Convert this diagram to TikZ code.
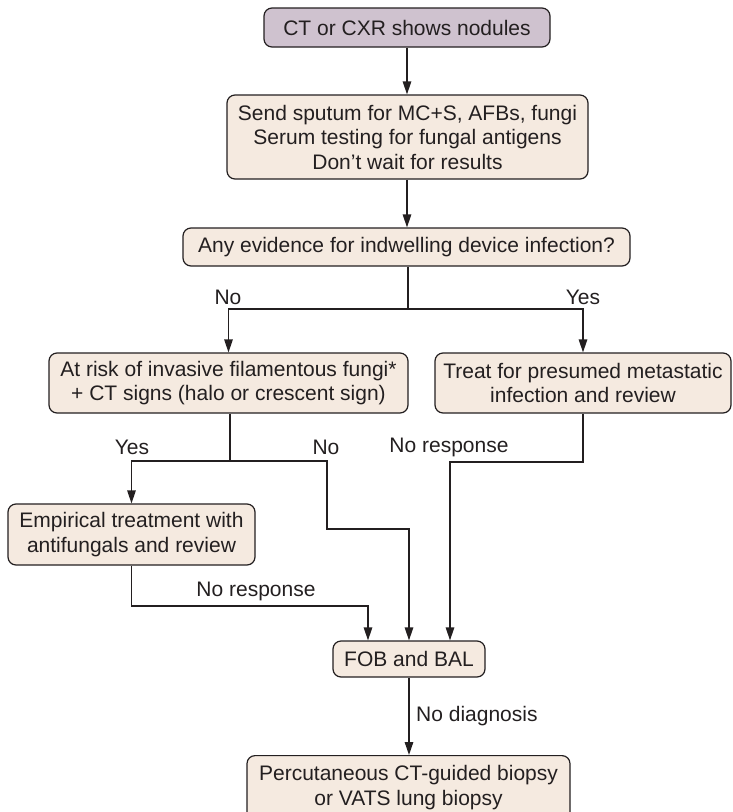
\documentclass[tikz,border=0pt]{standalone}
\usepackage{fontspec}
\setmainfont{Liberation Sans}
\usetikzlibrary{arrows.meta}
\definecolor{boxfill}{HTML}{F5EAE0}
\definecolor{topfill}{HTML}{CFC2CF}
\definecolor{ink}{HTML}{231F20}
\begin{document}
\begin{tikzpicture}[x=1pt,y=-1pt,
  box/.style={draw=ink, line width=1.2pt, rounded corners=8pt, fill=boxfill, align=center, inner sep=0pt, font=\fontsize{21}{24.5}\selectfont, text=ink},
  lbl/.style={font=\fontsize{21}{24}\selectfont, text=ink, inner sep=0pt},
  conn/.style={draw=ink, line width=1.4pt},
  arr/.style={conn, -{Triangle[length=13pt,width=8.5pt]}}]
\clip (0,0) rectangle (732,812);
\node[box, fill=topfill, minimum width=286pt, minimum height=39pt] (b1) at (407,27.5) {CT or CXR shows nodules};
\node[box, minimum width=361pt, minimum height=84pt] (b2) at (407.5,137) {Send sputum for MC+S, AFBs, fungi\\Serum testing for fungal antigens\\Don’t wait for results};
\node[box, minimum width=447pt, minimum height=38pt] (b3) at (406.5,247) {Any evidence for indwelling device infection?};
\node[box, minimum width=359pt, minimum height=60pt] (b4) at (228.5,383) {At risk of invasive filamentous fungi*\\+ CT signs (halo or crescent sign)};
\node[box, minimum width=296pt, minimum height=60pt] (b5) at (583,383) {Treat for presumed metastatic\\infection and review};
\node[box, minimum width=247pt, minimum height=61pt] (b6) at (131.5,534.5) {Empirical treatment with\\antifungals and review};
\node[box, minimum width=152pt, minimum height=36pt] (b7) at (409,659) {FOB and BAL};
\node[box, minimum width=323pt, minimum height=64pt, anchor=north] (b8) at (408.5,755) {Percutaneous CT-guided biopsy\\or VATS lung biopsy};

\coordinate (j1) at (408,309);
\coordinate (j2) at (230,461);
\coordinate (k1) at (327,529);
\coordinate (k2) at (450,462);
\coordinate (k3) at (368,606);

\draw[arr] (b1.south) -- (b1.south |- b2.north);
\draw[arr] (b1.south |- b2.south) -- (b1.south |- b3.north);
\draw[conn] (b3.south -| j1) -- (j1);
\draw[arr] (j1) -| (b4.north);
\draw[arr] (j1) -| (b5.north);
\draw[conn] (b4.south -| j2) -- (j2);
\draw[arr] (j2) -| (b6.north);
\draw[arr] (j2) -| (k1) -| (b7.north);
\draw[arr] (b5.south) |- (k2) -- (k2 |- b7.north);
\draw[arr] (b6.south) |- (k3) -- (k3 |- b7.north);
\draw[arr] (b7.south) -- (b7.south |- b8.north);

\node[lbl] (l1) at (228,297) {No};
\node[lbl] (l2) at (583,297) {Yes};
\node[lbl] (l3) at (132,447) {Yes};
\node[lbl] (l4) at (326,447) {No};
\node[lbl] (l5) at (449,447) {No response};
\node[lbl] (l6) at (256,591) {No response};
\node[lbl, anchor=west] (l7) at (416,716) {No diagnosis};
\end{tikzpicture}
\end{document}
